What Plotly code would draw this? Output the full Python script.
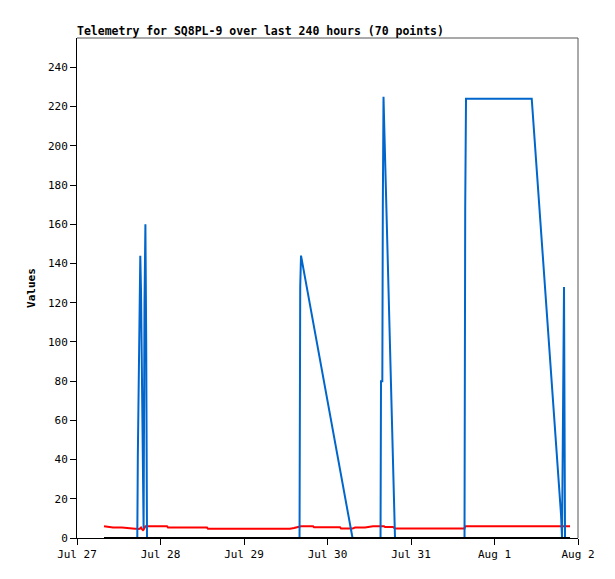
import datetime as dt
import plotly.graph_objects as go

# hours since Jul 27 00:00 for each sample
hours = [
    7.76, 10.35, 12.93, 15.23, 16.67, 17.33, 17.48, 17.71, 17.99, 18.19,
    18.40, 18.57, 18.80, 18.97, 19.14, 19.40, 19.66, 19.89, 20.12, 22.42,
    25.87, 26.16, 32.48, 37.37, 37.65, 43.98, 49.73, 55.48, 61.22, 62.37,
    63.24, 63.96, 64.16, 64.39, 67.84, 68.12, 75.60, 75.88, 79.19, 79.91,
    82.78, 85.08, 87.24, 87.38, 87.76, 87.90, 88.10, 88.24, 88.53, 90.83,
    91.40, 95.72, 101.47, 107.21, 111.38, 111.58, 111.81, 115.84, 121.59, 127.34,
    130.70, 139.12, 139.41, 139.70, 139.98, 140.27, 141.71,
]
blue_vals = [
    0, 0, 0, 0, 0, 0, 41, 88, 121, 144,
    126, 90, 55, 18, 5, 120, 160, 100, 0, 0,
    0, 0, 0, 0, 0, 0, 0, 0, 0, 0,
    0, 0, 128, 144, None, None, None, None, 0, 0,
    0, 0, 0, 80, 80, 168, 225, 215, None, None,
    0, 0, 0, 0, 0, 168, 224, 224, 224, 224,
    224, 12, 0, 65, 128, 0, 0,
]
red_vals = [
    6.0, 5.3, 5.3, 4.7, 4.7, 4.7, 4.6, 4.6, 4.7, 5.2,
    5.3, 4.8, 4.4, 4.0, 4.3, 5.5, 6.0, 6.0, 6.0, 6.0,
    6.0, 5.3, 5.3, 5.3, 4.7, 4.7, 4.7, 4.7, 4.7, 5.1,
    5.6, 6.0, 6.0, 6.0, 6.0, 5.5, 5.5, 4.8, 4.8, 5.3,
    5.3, 6.0, 6.0, 6.0, 6.0, 6.0, 6.0, 6.0, 5.6, 5.6,
    4.8, 4.8, 4.8, 4.8, 4.8, 6.0, 6.0, 6.0, 6.0, 6.0,
    6.0, 6.0, 6.0, 6.0, 6.0, 6.0, 6.0,
]
black_vals = [0] * len(hours)

day_ticks = ["2025-07-27", "2025-07-28", "2025-07-29", "2025-07-30",
             "2025-07-31", "2025-08-01", "2025-08-02"]
day_labels = ["Jul 27", "Jul 28", "Jul 29", "Jul 30", "Jul 31", "Aug 1", "Aug 2"]

start = dt.datetime(2025, 7, 27)
times = [start + dt.timedelta(hours=h) for h in hours]

FONT = "DejaVu Sans Mono"

fig = go.Figure()
fig.add_trace(go.Scatter(x=times, y=red_vals, mode="lines",
                         line=dict(color="#ff0000", width=2)))
fig.add_trace(go.Scatter(x=times, y=blue_vals, mode="lines", connectgaps=True,
                         line=dict(color="#0066cc", width=2)))
fig.add_trace(go.Scatter(x=times, y=black_vals, mode="lines",
                         line=dict(color="#000000", width=2)))

# page body has an 8px margin, so offsets are shifted by 8
fig.update_layout(
    width=615, height=579,
    showlegend=False,
    paper_bgcolor="white", plot_bgcolor="white",
    margin=dict(l=69, r=45, t=30, b=49),
    font=dict(family=FONT, size=11, color="black"),
    title=dict(text="<b>Telemetry for SQ8PL-9 over last 240 hours (70 points)</b>",
               x=69 / 615, xanchor="left", y=1 - 23 / 579, yanchor="middle",
               font=dict(family=FONT, size=11.5)),
    xaxis=dict(
        range=["2025-07-27", "2025-08-02"],
        tickmode="array", tickvals=day_ticks, ticktext=day_labels,
        ticks="outside", ticklen=6, tickcolor="black",
        showgrid=False, zeroline=False,
        showline=True, linecolor="black", linewidth=1, mirror=False,
    ),
    yaxis=dict(
        range=[0, 255],
        tickmode="array", tickvals=list(range(0, 241, 20)),
        ticks="outside", ticklen=6, tickcolor="black",
        showgrid=False, zeroline=False,
        showline=True, linecolor="black", linewidth=1,
        title=dict(text="<b>Values</b>", standoff=10, font=dict(family=FONT, size=11)),
    ),
    shapes=[
        dict(type="line", xref="paper", yref="paper", x0=0, x1=1, y0=1, y1=1,
             line=dict(color="#555555", width=1)),
        dict(type="line", xref="paper", yref="paper", x0=1, x1=1, y0=0, y1=1,
             line=dict(color="#555555", width=1)),
    ],
)

fig.write_html("out.html")
